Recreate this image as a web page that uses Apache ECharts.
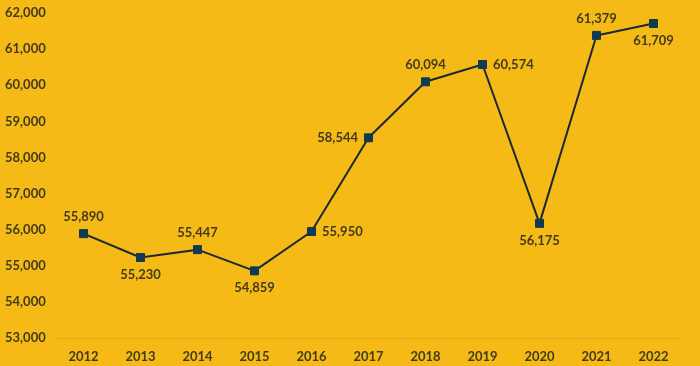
<!DOCTYPE html>
<html><head><meta charset="utf-8">
<script src="https://cdn.jsdelivr.net/npm/echarts@6/dist/echarts.min.js"></script>
<style>html,body{margin:0;padding:0;background:#F6BA17;}#c{width:700px;height:366px;}</style>
</head><body><div id="c"></div>
<script>
const years = ['2012','2013','2014','2015','2016','2017','2018','2019','2020','2021','2022'];
const values = [55890,55230,55447,54859,55950,58544,60094,60574,56175,61379,61709];
const labelPos = ['top','bottom','top','bottom','right','left','top','right','bottom','top','bottom'];
const yTicks = [53000,54000,55000,56000,57000,58000,59000,60000,61000,62000];

const txt = '#413a1c';
const font = 'Lato, "Open Sans", sans-serif';
const chart = echarts.init(document.getElementById('c'));
chart.setOption({
  backgroundColor: '#F6BA17',
  animation: false,
  grid: {left: 55, right: 18, top: 13, bottom: 28},
  xAxis: {
    type: 'category', data: years, boundaryGap: true,
    axisLine: {show: true, lineStyle: {color: '#E0A916', width: 1}},
    axisTick: {show: false},
    axisLabel: {color: txt, fontFamily: font, fontWeight: 'bold', fontSize: 13, margin: 12}
  },
  yAxis: {
    type: 'value', min: yTicks[0], max: yTicks[yTicks.length-1], interval: 1000,
    splitLine: {show: false}, axisLine: {show: false}, axisTick: {show: false},
    axisLabel: {color: txt, fontFamily: font, fontWeight: 'bold', fontSize: 13, align: 'left', margin: 50,
      formatter: v => v.toLocaleString('en-US')}
  },
  series: [{
    type: 'line', data: values.map((v,i)=>({value: v, label: {position: labelPos[i]}})),
    symbol: 'rect', symbolSize: 8,
    lineStyle: {color: '#1b2830', width: 2},
    itemStyle: {color: '#0f3a52', borderColor: '#0f3a52'},
    label: {show: true, color: txt, fontFamily: font, fontWeight: 'bold', fontSize: 13, distance: 6,
      formatter: p => p.value.toLocaleString('en-US')}
  }]
});
</script></body></html>
